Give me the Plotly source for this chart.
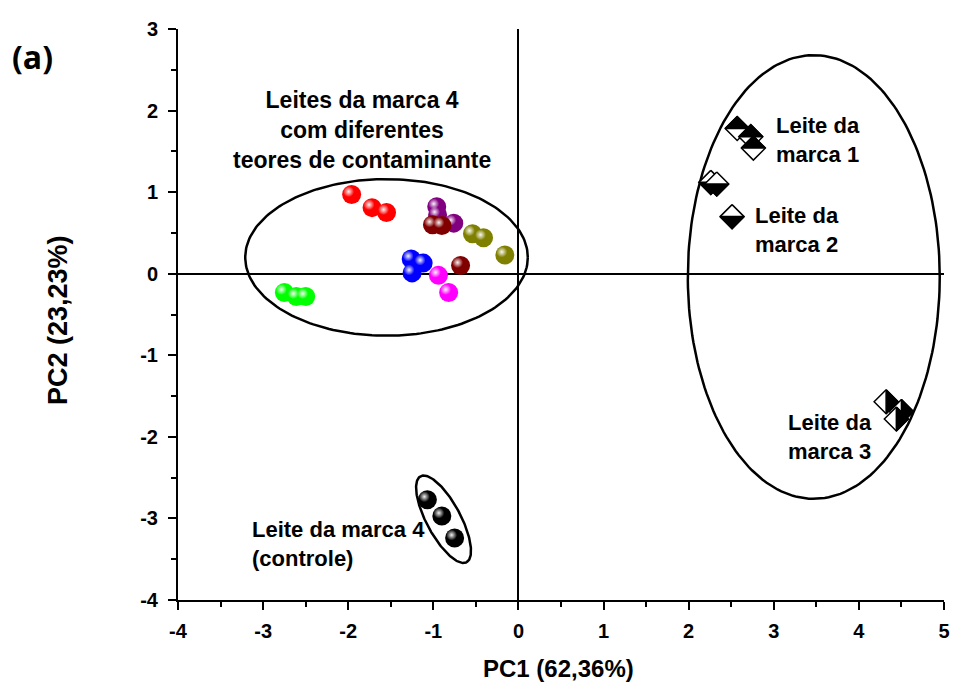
import numpy as np
import plotly.graph_objects as go

# ---------------- data ----------------
sphere_groups = {
    "red":     {"color": "#FF0000", "x": [-1.96, -1.72, -1.55], "y": [0.97, 0.81, 0.75]},
    "green":   {"color": "#00FF00", "x": [-2.75, -2.61, -2.50], "y": [-0.23, -0.28, -0.28]},
    "blue":    {"color": "#0000FF", "x": [-1.26, -1.12, -1.25], "y": [0.18, 0.13, 0.01]},
    "magenta": {"color": "#FF00FF", "x": [-0.94, -0.82], "y": [-0.02, -0.23]},
    "purple":  {"color": "#800080", "x": [-0.96, -0.95, -0.76], "y": [0.82, 0.72, 0.62]},
    "maroon":  {"color": "#800000", "x": [-1.01, -0.90, -0.68], "y": [0.60, 0.59, 0.10]},
    "olive":   {"color": "#808000", "x": [-0.54, -0.41, -0.16], "y": [0.49, 0.44, 0.23]},
    "control": {"color": "#000000", "x": [-1.07, -0.90, -0.75], "y": [-2.77, -2.97, -3.24]},
}

marca1_x = [2.57, 2.73, 2.76]
marca1_y = [1.78, 1.68, 1.54]
marca2_x = [2.26, 2.33, 2.51]
marca2_y = [1.12, 1.10, 0.70]
marca3_x = [4.32, 4.50, 4.44]
marca3_y = [-1.57, -1.69, -1.78]

x_ticks = [-4, -3, -2, -1, 0, 1, 2, 3, 4, 5]
y_ticks = [-4, -3, -2, -1, 0, 1, 2, 3]

# ellipses (center x, center y, radius x, radius y)
ell_left = (-1.55, 0.20, 1.66, 0.96)
ell_right = (3.47, -0.04, 1.48, 2.72)
# tilted control ellipse centre
ell_ctrl_center = (-0.88, -3.01)

# ---------------- layout constants ----------------
W, H = 954, 689
ML, MR, MT, MB = 178, 10, 29, 89
XR = (-4, 5)
YR = (-4, 3)
PW = W - ML - MR
PH = H - MT - MB
ux = PW / (XR[1] - XR[0])  # px per x unit
uy = PH / (YR[1] - YR[0])  # px per y unit

fig = go.Figure()

# ellipses
t = np.linspace(0, 2 * np.pi, 200)
for cx, cy, rx, ry in (ell_left, ell_right):
    fig.add_trace(go.Scatter(x=cx + rx * np.cos(t), y=cy + ry * np.sin(t), mode="lines",
                             line=dict(color="black", width=2.5), hoverinfo="skip"))
maj = np.array([23.0, -43.0])   # px (right, up-negative)
mn = np.array([15.0, 8.0]) * 17 / np.hypot(15, 8)
ex = ell_ctrl_center[0] + (np.cos(t) * maj[0] + np.sin(t) * mn[0]) / ux
ey = ell_ctrl_center[1] + (np.cos(t) * maj[1] + np.sin(t) * mn[1]) / uy
fig.add_trace(go.Scatter(x=ex, y=ey, mode="lines", line=dict(color="black", width=2.5),
                         hoverinfo="skip"))

# spheres
for g in sphere_groups.values():
    fig.add_trace(go.Scatter(x=g["x"], y=g["y"], mode="markers",
                             marker=dict(size=19, color=g["color"], line=dict(width=0)),
                             hoverinfo="skip"))
    hx = [v - 3 / ux for v in g["x"]]
    hy = [v + 3 / uy for v in g["y"]]
    fig.add_trace(go.Scatter(x=hx, y=hy, mode="markers",
                             marker=dict(size=11, color="rgba(255,255,255,0)",
                                         gradient=dict(type="radial", color="rgba(255,255,255,0.95)"),
                                         line=dict(width=0)),
                             hoverinfo="skip"))

# half-filled diamonds
HD = 12  # half diagonal px
def diamond(x, y, half):
    dx, dy = HD / ux, HD / uy
    T = (x, y + dy); R = (x + dx, y); B = (x, y - dy); L = (x - dx, y)
    full = [T, R, B, L, T]
    if half == "top":
        part = [L, T, R, L]
    elif half == "bottom":
        part = [L, B, R, L]
    else:
        part = [T, R, B, T]
    fig.add_trace(go.Scatter(x=[p[0] for p in full], y=[p[1] for p in full], mode="lines",
                             fill="toself", fillcolor="white",
                             line=dict(color="black", width=1.5), hoverinfo="skip"))
    fig.add_trace(go.Scatter(x=[p[0] for p in part], y=[p[1] for p in part], mode="lines",
                             fill="toself", fillcolor="black",
                             line=dict(color="black", width=1.5), hoverinfo="skip"))

for xs, ys, half in ((marca1_x, marca1_y, "top"), (marca2_x, marca2_y, "bottom"),
                     (marca3_x, marca3_y, "right")):
    for x, y in zip(xs, ys):
        diamond(x, y, half)

FONT = "Liberation Sans, Arial, sans-serif"
ann_font = dict(family=FONT, size=22, color="black", weight="bold")

annotations = [
    dict(x=-1.84, y=1.76, text="Leites da marca 4<br>com diferentes<br>teores de contaminante",
         xanchor="center", yanchor="middle", align="center",
         font=dict(family=FONT, size=23, color="black", weight="bold")),
    dict(x=3.0, y=1.64, text="Leite da<br>marca 1", xanchor="left", yanchor="middle", align="left"),
    dict(x=2.76, y=0.53, text="Leite da<br>marca 2", xanchor="left", yanchor="middle", align="left"),
    dict(x=3.14, y=-2.0, text="Leite da<br>marca 3", xanchor="left", yanchor="middle", align="left"),
    dict(x=-3.15, y=-3.31, text="Leite da marca 4<br>(controle)", xanchor="left", yanchor="middle",
         align="left"),
]
for a in annotations:
    a.setdefault("font", ann_font)
    a.update(xref="x", yref="y", showarrow=False)

annotations += [
    dict(xref="paper", yref="paper", x=(558 - ML) / PW, y=(H - MB - 668) / PH,
         text="PC1 (62,36%)", showarrow=False, xanchor="center", yanchor="middle",
         font=dict(family=FONT, size=24, color="black", weight="bold")),
    dict(xref="paper", yref="paper", x=(58 - ML) / PW, y=(H - MB - 320) / PH,
         text="PC2 (23,23%)", showarrow=False, xanchor="center", yanchor="middle", textangle=-90,
         font=dict(family=FONT, size=27, color="black", weight="bold")),
    dict(xref="paper", yref="paper", x=(32 - ML) / PW, y=(H - MB - 56) / PH,
         text="(a)", showarrow=False, xanchor="center", yanchor="middle",
         font=dict(family="Open Sans, Lato, sans-serif", size=32, color="black", weight="bold")),
]

axis_common = dict(showgrid=False, showline=True, linecolor="black", linewidth=2,
                   ticks="outside", ticklen=8, tickwidth=2, tickcolor="black",
                   zeroline=True, zerolinecolor="black", zerolinewidth=1.5,
                   tickfont=dict(family=FONT, size=20, color="black", weight="bold"),
                   minor=dict(ticks="outside", ticklen=5, tickwidth=2, tickcolor="black", dtick=0.5),
                   automargin=False, fixedrange=True)

fig.update_layout(
    width=W, height=H, margin=dict(l=ML, r=MR, t=MT, b=MB, autoexpand=False),
    paper_bgcolor="white", plot_bgcolor="white", showlegend=False,
    xaxis=dict(range=list(XR), tickvals=x_ticks, ticktext=[str(v) for v in x_ticks],
               ticklabelstandoff=4, **axis_common),
    yaxis=dict(range=list(YR), tickvals=y_ticks, ticktext=[str(v) for v in y_ticks],
               ticklabelstandoff=6, **axis_common),
    annotations=annotations,
)

fig.write_html("out.html")
